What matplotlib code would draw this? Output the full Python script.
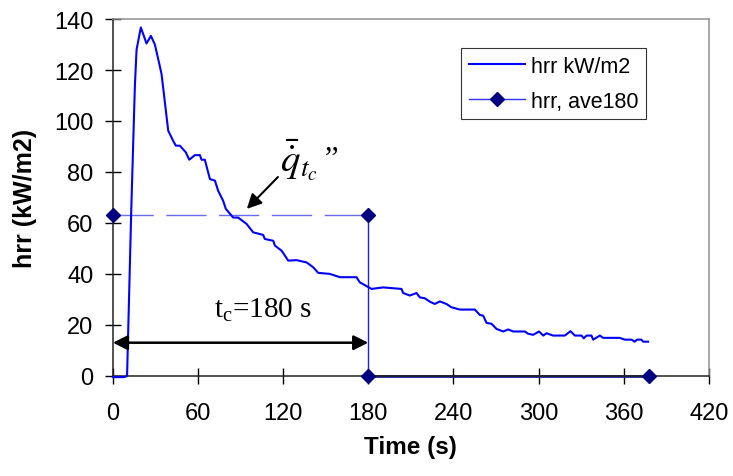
import numpy as np
import matplotlib.pyplot as plt

# hrr curve
time_s = [0, 8, 10, 13, 15.5, 16.7, 19.7, 23.7, 26.8, 29.6, 33, 34.3, 39, 42.5, 44.4, 47.2,
          51.4, 53.8, 57.8, 61.3, 62.5, 64.8, 68.4, 71.9, 74.2, 77.7, 79.6, 84.8, 88.3,
          94.2, 98.9, 105.9, 107.1, 113, 114.2, 118.9, 123.6, 129.4, 136.5, 141.2, 144.7,
          152.9, 160, 171.7, 174, 182.3, 190.5, 203.4, 204.6, 209.3, 214, 216.3, 219.9,
          223.4, 226.9, 230.4, 235.1, 238.6, 244.5, 255.1, 258.6, 261, 263.3, 266.9, 270.4,
          275.1, 278.6, 282.1, 290.3, 292.7, 296.2, 300.4, 303.3, 305.6, 310.3, 318.5,
          322.5, 325.6, 330.3, 331.9, 333.8, 337.3, 338.5, 343.2, 345.5, 357.2, 360.8,
          365.5, 367.8, 369.4, 372.5, 373.7, 377.2]
hrr = [-0.5, -0.5, 0, 66, 113.7, 128, 136.7, 130.4, 133.4, 130, 121.7, 118.4, 96.2, 92.2,
       90.3, 90.3, 87.7, 84.8, 86.6, 86.6, 84.8, 84.8, 77.2, 76.6, 72.6, 68.7, 65.5, 62.1,
       62.1, 59.6, 56.3, 55.3, 53.7, 53, 51.1, 49.1, 45.2, 45.4, 44.5, 42.6, 40.4, 40,
       38.7, 38.7, 36.7, 34.1, 34.7, 34.1, 32.5, 31.5, 32.5, 30.8, 30.4, 29.1, 28.2, 29.2,
       28.2, 26.9, 26, 26, 23.9, 23.6, 20.8, 20.4, 18.4, 17.4, 18.2, 17.4, 17.4, 16.5,
       16.1, 17.4, 15.8, 16.7, 15.8, 15.8, 17.5, 15.8, 15.8, 14.7, 15.8, 15.8, 14.2, 15.8,
       14.9, 14.9, 14.2, 14.2, 13.4, 14.2, 14.2, 13.4, 13.4]

# average over t_c = 180 s
ave_t = [0, 180, 180, 378]
ave_hrr = [63, 63, 0, 0]

t_c = 180
arrow_y = 13

xticks = [0, 60, 120, 180, 240, 300, 360, 420]
yticks = [0, 20, 40, 60, 80, 100, 120, 140]

plt.rcParams['font.family'] = ['Liberation Sans', 'DejaVu Sans']
plt.rcParams['mathtext.fontset'] = 'stix'

fig = plt.figure(figsize=(7.33, 4.77), dpi=100)
ax = fig.add_axes([0.154, 0.210, 0.813, 0.748])

ax.plot(time_s, hrr, color='#0000FF', lw=1.5, clip_on=False, zorder=3, label='hrr kW/m2')

# average series, segments styled separately like the original
ax.plot(ave_t[0:2], ave_hrr[0:2], color='#6A6AFF', lw=1.0, dashes=(29, 9), zorder=2)
ax.plot(ave_t[1:3], ave_hrr[1:3], color='#2020D0', lw=1.0, zorder=2)
ax.plot(ave_t[2:4], ave_hrr[2:4], color='#1A1A90', lw=2.0, zorder=2, clip_on=False)
ax.plot(ave_t, ave_hrr, ls='none', marker='D', color='#000080', ms=7, clip_on=False, zorder=4)
# legend proxy
ax.plot([], [], color='#3030FF', lw=1.0, marker='D', ms=7, mfc='#000080', mec='#000080',
        label='hrr, ave180')

ax.set_xlim(0, 420)
ax.set_ylim(0, 140)
ax.set_xticks(xticks)
ax.set_yticks(yticks)
ax.tick_params(direction='inout', length=11, width=1.0, labelsize=17, color='black')
ax.tick_params(axis='x', pad=13)
ax.tick_params(axis='y', pad=8.5)

for s in ['left', 'bottom']:
    ax.spines[s].set_color('#222222')
    ax.spines[s].set_linewidth(1.1)
for s in ['top', 'right']:
    ax.spines[s].set_color('#909090')
    ax.spines[s].set_linewidth(1.1)

ax.set_xlabel('Time (s)', fontsize=17.5, fontweight='bold', labelpad=8)
ax.set_ylabel('hrr (kW/m2)', fontsize=18, fontweight='bold', labelpad=12)

# t_c double arrow
ax.annotate('', xy=(t_c, arrow_y), xytext=(0, arrow_y),
            arrowprops=dict(arrowstyle='<|-|>', color='black', lw=1.8,
                            mutation_scale=22, shrinkA=0, shrinkB=0), zorder=5)
ax.text(106, 26, r'$\mathregular{t_c}$=180 s', fontsize=21, family='Liberation Serif',
        ha='center', va='center')

# q-bar annotation
ax.annotate('', xy=(94.4, 65.5), xytext=(116.3, 78),
            arrowprops=dict(arrowstyle='-|>', color='black', lw=1.5,
                            mutation_scale=22, shrinkA=0, shrinkB=0))
ax.text(131, 85, r'$\bar{\dot{q}}_{t_c}$', fontsize=28, ha='center', va='center')
ax.text(155, 92, ',,', fontsize=22, family='Liberation Serif', ha='center', va='center')

leg = ax.legend(loc='upper left', bbox_to_anchor=(461 / 733, 1 - 49 / 477),
                bbox_transform=fig.transFigure, fontsize=15.5, frameon=True,
                fancybox=False, edgecolor='black', labelspacing=0.65,
                handlelength=2.6, handletextpad=0.3, borderpad=0.35, borderaxespad=0)
leg.get_frame().set_linewidth(0.8)

fig.savefig('out.png', dpi=100)
